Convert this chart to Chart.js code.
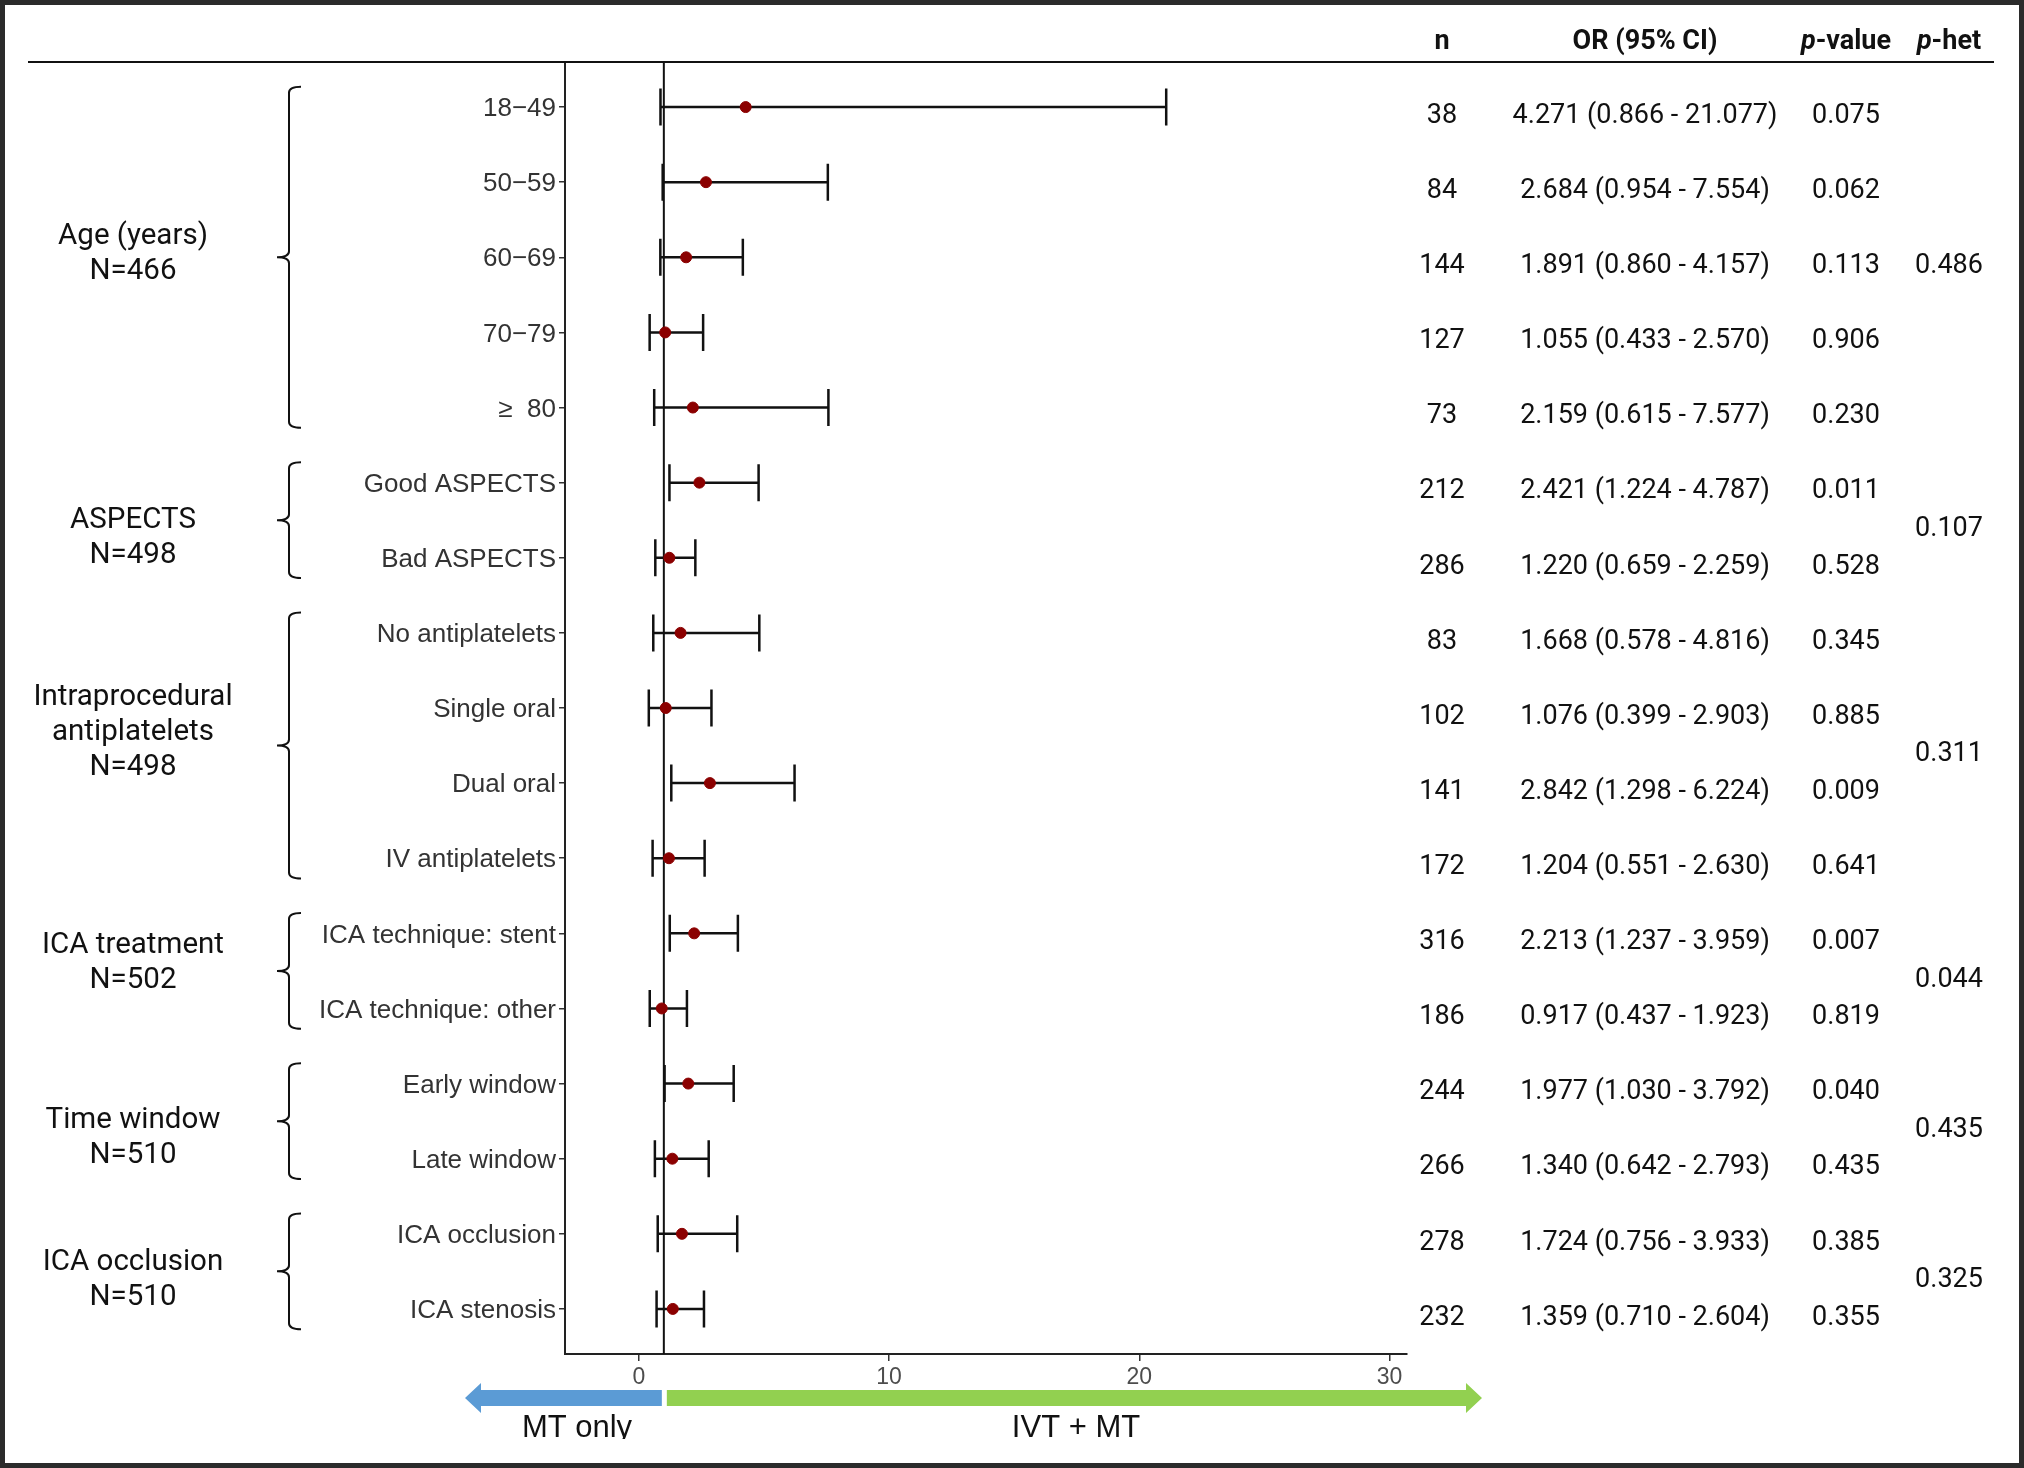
<!DOCTYPE html>
<html lang="en">

<head>
  <meta charset="UTF-8">
  <script src="https://cdn.jsdelivr.net/npm/chart.js@4.4.1/dist/chart.umd.min.js"></script>
  <title>Forest plot</title>
  <style>
    body { margin: 0; background: #fff; }
  </style>
</head>

<body>
  <canvas id="forest" width="2024" height="1468"></canvas>
  <script>
    // subgroup rows, top to bottom
    const subgroups = ['18\u221249', '50\u221259', '60\u221269', '70\u221279', '\u2265  80',
      'Good ASPECTS', 'Bad ASPECTS',
      'No antiplatelets', 'Single oral', 'Dual oral', 'IV antiplatelets',
      'ICA technique: stent', 'ICA technique: other',
      'Early window', 'Late window',
      'ICA occlusion', 'ICA stenosis'];
    const nPatients = [38, 84, 144, 127, 73, 212, 286, 83, 102, 141, 172, 316, 186, 244, 266, 278, 232];
    const oddsRatio = [4.271, 2.684, 1.891, 1.055, 2.159, 2.421, 1.220, 1.668, 1.076, 2.842, 1.204, 2.213, 0.917, 1.977, 1.340, 1.724, 1.359];
    const ciLow = [0.866, 0.954, 0.860, 0.433, 0.615, 1.224, 0.659, 0.578, 0.399, 1.298, 0.551, 1.237, 0.437, 1.030, 0.642, 0.756, 0.710];
    const ciHigh = [21.077, 7.554, 4.157, 2.570, 7.577, 4.787, 2.259, 4.816, 2.903, 6.224, 2.630, 3.959, 1.923, 3.792, 2.793, 3.933, 2.604];
    const pValues = ['0.075', '0.062', '0.113', '0.906', '0.230', '0.011', '0.528', '0.345', '0.885', '0.009', '0.641', '0.007', '0.819', '0.040', '0.435', '0.385', '0.355'];

    // groups
    const groupNames = [['Age (years)'], ['ASPECTS'], ['Intraprocedural', 'antiplatelets'], ['ICA treatment'], ['Time window'], ['ICA occlusion']];
    const groupN = [466, 498, 498, 502, 510, 510];
    const groupSizes = [5, 2, 4, 2, 2, 2];
    const groupPHet = ['0.486', '0.107', '0.311', '0.044', '0.435', '0.325'];

    const xTicks = [0, 10, 20, 30];
    const rows = subgroups.map((s, i) => i + 1);

    const roboto = '"Roboto", "Liberation Sans", sans-serif';

    function arrow(ctx, x0, x1, y, tipLeft, color) {
      const shaft = 8, head = 15, headLen = 16;
      ctx.fillStyle = color;
      ctx.beginPath();
      if (tipLeft) {
        ctx.moveTo(x0, y);
        ctx.lineTo(x0 + headLen, y - head);
        ctx.lineTo(x0 + headLen, y - shaft);
        ctx.lineTo(x1, y - shaft);
        ctx.lineTo(x1, y + shaft);
        ctx.lineTo(x0 + headLen, y + shaft);
        ctx.lineTo(x0 + headLen, y + head);
      } else {
        ctx.moveTo(x1, y);
        ctx.lineTo(x1 - headLen, y - head);
        ctx.lineTo(x1 - headLen, y - shaft);
        ctx.lineTo(x0, y - shaft);
        ctx.lineTo(x0, y + shaft);
        ctx.lineTo(x1 - headLen, y + shaft);
        ctx.lineTo(x1 - headLen, y + head);
      }
      ctx.closePath();
      ctx.fill();
    }

    const forestDecor = {
      id: 'forestDecor',
      beforeDatasetsDraw(chart) {
        const { ctx, chartArea, scales: { x, y } } = chart;
        ctx.save();
        ctx.strokeStyle = '#111';
        ctx.lineWidth = 2;
        // reference line at OR = 1
        const x1 = x.getPixelForValue(1);
        ctx.beginPath();
        ctx.moveTo(x1, chartArea.top);
        ctx.lineTo(x1, chartArea.bottom);
        ctx.stroke();
        // confidence intervals
        ctx.lineWidth = 2.5;
        rows.forEach((r, i) => {
          const py = y.getPixelForValue(r);
          const a = x.getPixelForValue(ciLow[i]);
          const b = x.getPixelForValue(ciHigh[i]);
          ctx.beginPath();
          ctx.moveTo(a, py); ctx.lineTo(b, py);
          ctx.moveTo(a, py - 18.5); ctx.lineTo(a, py + 18.5);
          ctx.moveTo(b, py - 18.5); ctx.lineTo(b, py + 18.5);
          ctx.stroke();
        });
        ctx.restore();
      },
      afterDraw(chart) {
        const { ctx, scales: { x, y } } = chart;
        ctx.save();

        // header rule
        ctx.strokeStyle = '#111';
        ctx.lineWidth = 2;
        ctx.beginPath();
        ctx.moveTo(28, 62); ctx.lineTo(1994, 62);
        ctx.stroke();

        // headers
        ctx.fillStyle = '#111';
        ctx.textBaseline = 'middle';
        ctx.textAlign = 'center';
        ctx.font = 'bold 27px ' + roboto;
        ctx.fillText('n', 1442, 42);
        ctx.fillText('OR (95% CI)', 1645, 42);
        [['-value', 1846], ['-het', 1949]].forEach(([rest, cx]) => {
          ctx.font = 'italic bold 27px ' + roboto;
          const wp = ctx.measureText('p').width;
          ctx.font = 'bold 27px ' + roboto;
          const wr = ctx.measureText(rest).width;
          const left = cx - (wp + wr) / 2;
          ctx.textAlign = 'left';
          ctx.font = 'italic bold 27px ' + roboto;
          ctx.fillText('p', left, 42);
          ctx.font = 'bold 27px ' + roboto;
          ctx.fillText(rest, left + wp, 42);
          ctx.textAlign = 'center';
        });

        // table values
        ctx.font = '27px ' + roboto;
        rows.forEach((r, i) => {
          const py = y.getPixelForValue(r) + 9;
          ctx.fillText(String(nPatients[i]), 1442, py);
          ctx.fillText(oddsRatio[i].toFixed(3) + ' (' + ciLow[i].toFixed(3) + ' - ' + ciHigh[i].toFixed(3) + ')', 1645, py);
          ctx.fillText(pValues[i], 1846, py);
        });

        // groups: braces, labels, p-het
        const labelNudge = [-3, 18, -13, -8, 17, 9]; // hand placement of the group captions
        let start = 1;
        groupSizes.forEach((size, g) => {
          const end = start + size - 1;
          const top = y.getPixelForValue(start - 0.27);
          const bot = y.getPixelForValue(end + 0.27);
          const mid = y.getPixelForValue((start + end) / 2);
          const bx = 289;
          ctx.strokeStyle = '#111';
          ctx.lineWidth = 2;
          ctx.beginPath();
          ctx.moveTo(301, top);
          ctx.quadraticCurveTo(bx, top, bx, top + 6);
          ctx.lineTo(bx, mid - 6);
          ctx.quadraticCurveTo(bx, mid, 277, mid);
          ctx.quadraticCurveTo(bx, mid, bx, mid + 6);
          ctx.lineTo(bx, bot - 6);
          ctx.quadraticCurveTo(bx, bot, 301, bot);
          ctx.stroke();

          const lines = groupNames[g].concat(['N=' + groupN[g]]);
          ctx.font = '29.5px ' + roboto;
          ctx.fillStyle = '#111';
          const lh = 35;
          lines.forEach((t, k) => {
            ctx.fillText(t, 133, mid + labelNudge[g] + (k - (lines.length - 1) / 2) * lh);
          });

          ctx.font = '27px ' + roboto;
          ctx.fillText(groupPHet[g], 1949, mid + 9);
          start = end + 1;
        });

        // direction arrows
        const xr = x.getPixelForValue(1);
        arrow(ctx, 465, xr - 2, 1398, true, '#5b9bd5');
        arrow(ctx, xr + 3, 1482, 1398, false, '#92d050');
        ctx.save();
        ctx.beginPath();
        ctx.rect(0, 0, 2024, 1439);
        ctx.clip();
        ctx.fillStyle = '#111';
        ctx.font = '31px "Liberation Sans", Arial, sans-serif';
        ctx.textBaseline = 'alphabetic';
        ctx.fillText('MT only', 577, 1437);
        ctx.fillText('IVT + MT', 1076, 1437);
        ctx.restore();

        // outer frame
        ctx.strokeStyle = '#2b2b2b';
        ctx.lineWidth = 5;
        ctx.strokeRect(2.5, 2.5, 2019, 1463);
        ctx.restore();
      }
    };

    new Chart('forest', {
      type: 'scatter',
      data: {
        datasets: [{
          data: rows.map((r, i) => ({ x: oddsRatio[i], y: r })),
          pointRadius: 5.5,
          pointHoverRadius: 5.5,
          backgroundColor: '#8b0000',
          borderColor: '#8b0000'
        }]
      },
      options: {
        responsive: false,
        devicePixelRatio: 1,
        animation: false,
        layout: { padding: { top: 62, right: 617, bottom: 0, left: 0 } },
        plugins: { legend: { display: false }, tooltip: { enabled: false } },
        scales: {
          x: {
            type: 'linear',
            min: -2.95,
            max: 30.7,
            afterBuildTicks: s => { s.ticks = xTicks.map(v => ({ value: v })); },
            afterFit: s => { s.height = 114; },
            grid: { drawOnChartArea: false, drawTicks: true, tickLength: 7, color: '#333', lineWidth: 1.5 },
            border: { color: '#222', width: 2 },
            ticks: { font: { family: 'Liberation Sans', size: 23 }, color: '#4d4d4d', padding: 3, maxRotation: 0, autoSkip: false }
          },
          y: {
            type: 'linear',
            reverse: true,
            min: 0.4,
            max: 17.6,
            afterBuildTicks: s => { s.ticks = rows.map(v => ({ value: v })); },
            afterFit: s => { s.width = 565; },
            grid: { drawOnChartArea: false, drawTicks: true, tickLength: 6, color: '#333', lineWidth: 1.5 },
            border: { color: '#222', width: 2 },
            ticks: {
              callback: v => subgroups[v - 1],
              font: { family: 'Liberation Sans', size: 26 },
              color: '#333',
              padding: 3,
              labelOffset: 2,
              autoSkip: false
            }
          }
        }
      },
      plugins: [forestDecor]
    });
  </script>
</body>

</html>
